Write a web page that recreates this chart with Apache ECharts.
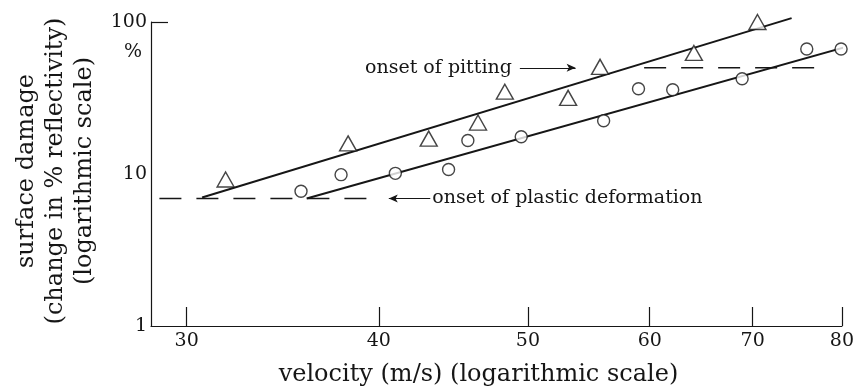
<!DOCTYPE html>
<html>
<head>
<meta charset="utf-8">
<script src="https://cdn.jsdelivr.net/npm/echarts@6/dist/echarts.min.js"></script>
<style>
  html, body { margin: 0; padding: 0; background: #ffffff; }
  #chart { width: 857px; height: 392px; }
</style>
</head>
<body>
<div id="chart"></div>
<script>
// Surface damage vs impact velocity, both on logarithmic scales.
const velocityTriangles = [31.8, 38.2, 43.1, 46.4, 48.3, 53.1, 55.7, 64.1, 70.5];
const damageTriangles   = [9.2, 15.9, 17.1, 21.8, 34.8, 31.7, 50.7, 62.6, 100];

const velocityCircles = [35.6, 37.8, 41.0, 44.4, 45.7, 49.5, 56.0, 59.0, 62.1, 68.9, 75.9, 79.9];
const damageCircles   = [7.7, 9.9, 10.1, 10.7, 16.6, 17.6, 22.4, 36.4, 35.8, 42.3, 66.5, 66.5];

// Straight-line fits through each set (end points)
const fitTrianglesVelocity = [30.7, 74.2];
const fitTrianglesDamage   = [7.0, 106];
const fitCirclesVelocity   = [35.9, 80.5];
const fitCirclesDamage     = [6.9, 68.6];

// Threshold levels
const plasticOnsetDamage = 6.9;
const plasticOnsetVelocity = [28.8, 39.8];
const plasticArrowVelocity = [43.2, 40.6];
const pittingOnsetDamage = 50;
const pittingOnsetVelocity = [59.5, 77.1];
const pittingArrowVelocity = [49.4, 53.7];

const xTicks = [30, 40, 50, 60, 70, 80];
const yTicks = [1, 10, 100];

const serif = '"DejaVu Serif", "Liberation Serif", serif';
const ink = '#161616';

const zip = (xs, ys) => xs.map((x, i) => [x, ys[i]]);

const chart = echarts.init(document.getElementById('chart'), null, { renderer: 'canvas' });

chart.setOption({
  animation: false,
  backgroundColor: '#ffffff',
  grid: { left: 151, right: 9, top: 22, bottom: 65, containLabel: false },
  xAxis: {
    type: 'log',
    logBase: 10,
    min: 28.44,
    max: 80,
    name: 'velocity (m/s) (logarithmic scale)',
    nameLocation: 'middle',
    nameGap: 37,
    nameTextStyle: { fontFamily: serif, fontSize: 24, color: ink, padding: [0, 36, 0, 0] },
    axisLine: { show: true, lineStyle: { color: ink, width: 1.2 } },
    axisTick: { show: true, inside: true, length: 19, customValues: xTicks, lineStyle: { color: ink, width: 1.2 } },
    axisLabel: { customValues: xTicks, margin: 6, fontFamily: serif, fontSize: 19, color: ink, formatter: v => String(Math.round(v)) },
    splitLine: { show: false },
    minorTick: { show: false }
  },
  yAxis: {
    type: 'log',
    logBase: 10,
    min: 1,
    max: 100,
    name: 'surface damage\n(change in % reflectivity)\n(logarithmic scale)',
    nameLocation: 'middle',
    nameRotate: 90,
    nameGap: 52,
    nameTextStyle: { fontFamily: serif, fontSize: 24, lineHeight: 29, color: ink, align: 'center', padding: [0, 0, 0, 6] },
    axisLine: { show: true, lineStyle: { color: ink, width: 1.2 } },
    axisTick: { show: true, inside: true, length: 17, customValues: [100], lineStyle: { color: ink, width: 1.2 } },
    axisLabel: { customValues: yTicks, margin: 4, fontFamily: serif, fontSize: 19, color: ink, formatter: v => String(Math.round(v)) },
    splitLine: { show: false },
    minorTick: { show: false }
  },
  graphic: [
    { type: 'text', left: 124, top: 43, style: { text: '%', font: '19px ' + serif, fill: ink } }
  ],
  series: [
    {
      name: 'pitting fit',
      type: 'line',
      data: zip(fitTrianglesVelocity, fitTrianglesDamage),
      showSymbol: false,
      clip: false,
      silent: true,
      lineStyle: { color: ink, width: 2 },
      z: 2
    },
    {
      name: 'deformation fit',
      type: 'line',
      data: zip(fitCirclesVelocity, fitCirclesDamage),
      showSymbol: false,
      clip: false,
      silent: true,
      lineStyle: { color: ink, width: 2 },
      z: 2
    },
    {
      name: 'onset of plastic deformation',
      type: 'line',
      data: plasticOnsetVelocity.map(v => [v, plasticOnsetDamage]),
      showSymbol: false,
      clip: false,
      silent: true,
      lineStyle: { color: ink, width: 1.3, type: [22, 15] },
      markLine: {
        silent: true,
        symbol: ['none', 'arrow'],
        symbolSize: [6, 9],
        lineStyle: { color: ink, width: 1, type: 'solid' },
        label: {
          show: true,
          position: 'start',
          distance: 2,
          formatter: 'onset of plastic deformation',
          fontFamily: serif,
          fontSize: 19,
          color: ink
        },
        data: [[
          { coord: [plasticArrowVelocity[0], plasticOnsetDamage] },
          { coord: [plasticArrowVelocity[1], plasticOnsetDamage] }
        ]]
      },
      z: 1
    },
    {
      name: 'onset of pitting',
      type: 'line',
      data: pittingOnsetVelocity.map(v => [v, pittingOnsetDamage]),
      showSymbol: false,
      clip: false,
      silent: true,
      lineStyle: { color: ink, width: 1.3, type: [22, 15] },
      markLine: {
        silent: true,
        symbol: ['none', 'arrow'],
        symbolSize: [6, 9],
        lineStyle: { color: ink, width: 1, type: 'solid' },
        label: {
          show: true,
          position: 'start',
          distance: 8,
          formatter: 'onset of pitting',
          fontFamily: serif,
          fontSize: 19,
          color: ink
        },
        data: [[
          { coord: [pittingArrowVelocity[0], pittingOnsetDamage] },
          { coord: [pittingArrowVelocity[1], pittingOnsetDamage] }
        ]]
      },
      z: 1
    },
    {
      name: 'triangles',
      type: 'scatter',
      data: zip(velocityTriangles, damageTriangles),
      symbol: 'triangle',
      symbolSize: [17, 15],
      clip: false,
      itemStyle: { color: '#ffffff', borderColor: ink, borderWidth: 1.4 },
      z: 3
    },
    {
      name: 'circles',
      type: 'scatter',
      data: zip(velocityCircles, damageCircles),
      symbol: 'circle',
      symbolSize: 12,
      clip: false,
      itemStyle: { color: '#ffffff', borderColor: ink, borderWidth: 1.4 },
      z: 3
    }
  ]
});
</script>
</body>
</html>
